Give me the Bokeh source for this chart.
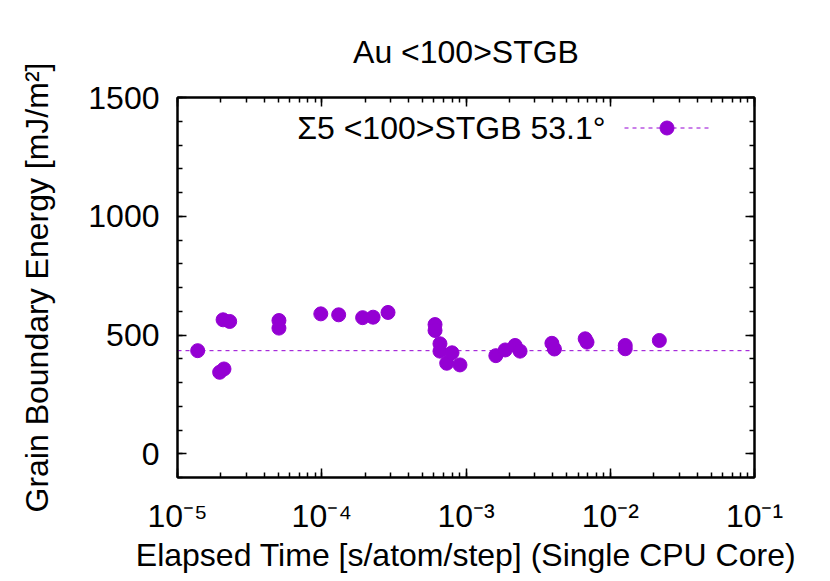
from bokeh.plotting import figure
from bokeh.models import (Legend, LegendItem, Label, SingleIntervalTicker,
                          LogTicker, CustomJSTickFormatter, LinearAxis, LogAxis, Range1d, Title)
from bokeh.embed import file_html
from bokeh.resources import INLINE

# ---- data ----
elapsed_time = [1.38e-5, 1.96e-5, 2.07e-5, 2.10e-5, 2.30e-5, 5.05e-5, 5.05e-5,
                9.85e-5, 1.31e-4, 1.92e-4, 2.27e-4, 2.88e-4, 6.10e-4, 6.10e-4,
                6.60e-4, 6.60e-4, 7.35e-4, 8.00e-4, 9.08e-4, 1.61e-3, 1.87e-3,
                2.19e-3, 2.37e-3, 3.94e-3, 4.10e-3, 6.70e-3, 6.90e-3, 1.27e-2,
                1.27e-2, 2.19e-2]
gb_energy = [434, 343, 564, 357, 557, 561, 529,
             589, 585, 573, 575, 595, 544, 519,
             463, 432, 381, 425, 374, 413, 437,
             456, 432, 465, 441, 484, 470, 456,
             442, 477]
reference_energy = 434
x_limits = (1e-5, 1e-1)
y_limits = (-100, 1500)
title_text = "Au <100>STGB"
legend_text = "Σ5 <100>STGB 53.1°"
x_label = "Elapsed Time [s/atom/step] (Single CPU Core)"
y_label = "Grain Boundary Energy [mJ/m²]"

COLOR = "#9400D3"
FONT = "Liberation Sans"
FS = "32px"
FW, FH = 577, 380

p = figure(x_axis_type="log", x_range=Range1d(*x_limits), y_range=Range1d(*y_limits),
           frame_width=FW, frame_height=FH,
           min_border_left=177, min_border_right=60, min_border_top=97, min_border_bottom=88,
           output_backend="svg", toolbar_location=None, background_fill_color="white",
           border_fill_color="white")
p.grid.visible = False
p.outline_line_color = "black"
p.outline_line_width = 2

ref_line = p.line(x=list(x_limits), y=[reference_energy, reference_energy],
                  line_color=COLOR, line_dash="4 4", line_width=1)
pts = p.scatter(elapsed_time, gb_energy, size=14, color=COLOR, line_color=COLOR)

fmt = CustomJSTickFormatter(code="""
const sup = {"-":"\u207b","0":"\u2070","1":"\u00b9","2":"\u00b2","3":"\u00b3","4":"\u2074","5":"\u2075","6":"\u2076","7":"\u2077","8":"\u2078","9":"\u2079"};
const e = Math.round(Math.log10(tick));
return "10" + String(e).split("").map(c => sup[c]).join("");
""")

def style(ax, show):
    ax.axis_line_width = 2
    ax.major_tick_in = 9
    ax.major_tick_out = 0
    ax.minor_tick_in = 5
    ax.minor_tick_out = 0
    ax.major_tick_line_width = 1.5
    ax.minor_tick_line_width = 1.5
    ax.major_label_text_font = FONT
    ax.major_label_text_color = "black"
    ax.major_label_text_font_size = FS
    ax.axis_label_text_font = FONT
    ax.axis_label_text_font_style = "normal"
    ax.axis_label_text_font_size = FS
    ax.axis_label_text_color = "black"
    if not show:
        ax.major_label_text_color = None
        ax.major_label_text_font_size = "1px"
        ax.major_label_standoff = 0

xa = p.xaxis[0]
xa.ticker = LogTicker(num_minor_ticks=10)
xa.formatter = fmt
xa.axis_label = x_label
style(xa, True)
xa.major_label_standoff = 20
xa.axis_label_standoff = 0

ya = p.yaxis[0]
ya.ticker = SingleIntervalTicker(interval=500, num_minor_ticks=5)
ya.axis_label = y_label
style(ya, True)
ya.major_label_standoff = 18
ya.axis_label_standoff = 30

top = LogAxis(ticker=LogTicker(num_minor_ticks=10))
style(top, False)
p.add_layout(top, "above")
right = LinearAxis(ticker=SingleIntervalTicker(interval=500, num_minor_ticks=5))
style(right, False)
p.add_layout(right, "right")

p.title = Title(text=title_text, align="center", text_font=FONT, text_font_size=FS,
                text_font_style="normal", text_color="black", standoff=56)

leg = Legend(items=[LegendItem(label=" ", renderers=[ref_line, pts])],
             location=(447, 332), glyph_width=85, glyph_height=35, label_height=35,
             label_width=1, label_standoff=0, padding=0, margin=0, spacing=0,
             border_line_color=None, background_fill_alpha=0)
p.add_layout(leg)

p.add_layout(Label(x=428, y=350, x_units="screen", y_units="screen", text=legend_text,
                   text_align="right", text_baseline="middle", text_font=FONT,
                   text_font_size=FS, text_color="black"))

open("out.html", "w").write(file_html(p, INLINE))
